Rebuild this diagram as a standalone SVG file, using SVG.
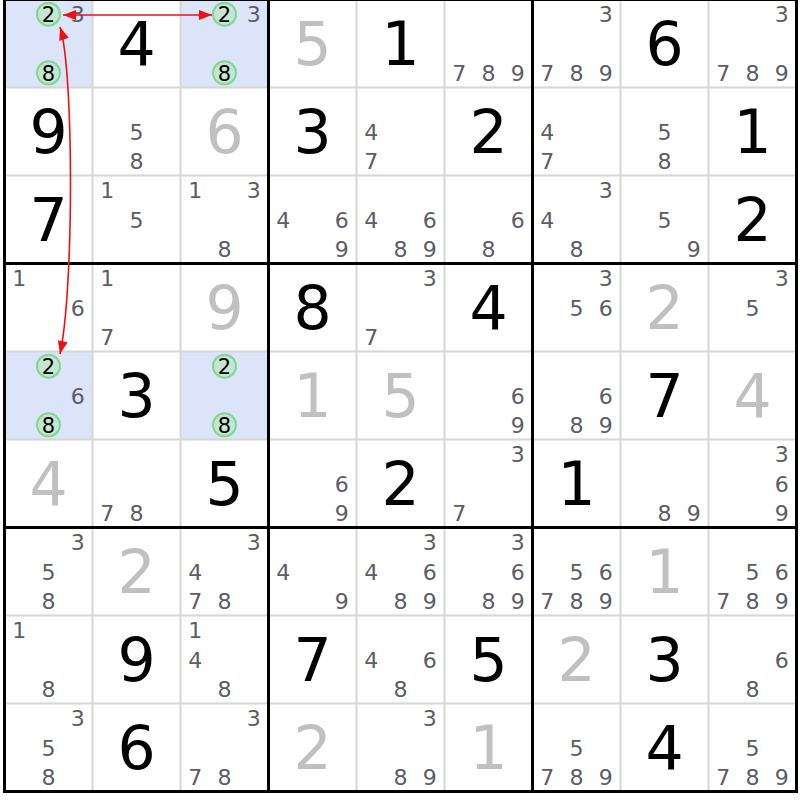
<svg xmlns="http://www.w3.org/2000/svg" width="800" height="800" viewBox="0 0 800 800">
<style>
text{font-family:"DejaVu Sans","Verdana",sans-serif;text-anchor:middle}
.g{font-size:60px;fill:#000}
.h{font-size:60px;fill:#c0c0c0}
.c{font-size:22px;fill:#5c5c66}
.cc{font-size:21px;fill:#000}
.ring{fill:#c4e6d2;stroke:#7fd88e;stroke-width:2}
.hl{fill:#dbe4f8}
.thin{stroke:#d6d6d6;stroke-width:2}
.thick{stroke:#000;stroke-width:3}
.arr{stroke:#f01010;stroke-width:1.6;fill:none;marker-start:url(#ah);marker-end:url(#ah)}
</style>
<defs>
<marker id="ah" markerUnits="userSpaceOnUse" markerWidth="14" markerHeight="12" refX="13" refY="5" orient="auto-start-reverse">
<path d="M0,0 L13,5 L0,10 z" fill="#f01010"/>
</marker>
</defs>
<rect x="0" y="0" width="800" height="800" fill="#fff"/>
<g id="highlights">
<rect class="hl" x="4.5" y="-0.5" width="88" height="88"/>
<rect class="hl" x="180.5" y="-0.5" width="88" height="88"/>
<rect class="hl" x="4.5" y="351.5" width="88" height="88"/>
<rect class="hl" x="180.5" y="351.5" width="88" height="88"/>
</g>
<g id="grid">
<line class="thin" x1="92.5" y1="0" x2="92.5" y2="791.5"/>
<line class="thin" x1="180.5" y1="0" x2="180.5" y2="791.5"/>
<line class="thin" x1="356.5" y1="0" x2="356.5" y2="791.5"/>
<line class="thin" x1="444.5" y1="0" x2="444.5" y2="791.5"/>
<line class="thin" x1="620.5" y1="0" x2="620.5" y2="791.5"/>
<line class="thin" x1="708.5" y1="0" x2="708.5" y2="791.5"/>
<line class="thin" x1="4.5" y1="87.5" x2="796.5" y2="87.5"/>
<line class="thin" x1="4.5" y1="175.5" x2="796.5" y2="175.5"/>
<line class="thin" x1="4.5" y1="351.5" x2="796.5" y2="351.5"/>
<line class="thin" x1="4.5" y1="439.5" x2="796.5" y2="439.5"/>
<line class="thin" x1="4.5" y1="615.5" x2="796.5" y2="615.5"/>
<line class="thin" x1="4.5" y1="703.5" x2="796.5" y2="703.5"/>
<line class="thick" x1="4.5" y1="-1" x2="4.5" y2="793"/>
<line class="thick" x1="268.5" y1="-1" x2="268.5" y2="793"/>
<line class="thick" x1="532.5" y1="-1" x2="532.5" y2="793"/>
<line class="thick" x1="796.5" y1="-1" x2="796.5" y2="793"/>
<line class="thick" x1="3" y1="-0.5" x2="798" y2="-0.5"/>
<line class="thick" x1="3" y1="263.5" x2="798" y2="263.5"/>
<line class="thick" x1="3" y1="527.5" x2="798" y2="527.5"/>
<line class="thick" x1="3" y1="791.5" x2="798" y2="791.5"/>
</g>
<!-- Row 0 -->
<g id="r0c0" transform="translate(48.5,43.5)"><circle class="ring" cx="0" cy="-29.3" r="11.5"/><circle class="ring" cx="0" cy="29.3" r="11.5"/><text class="cc" x="0" y="-21.6">2</text><text class="c" x="29.3" y="-21.3">3</text><text class="cc" x="0" y="37">8</text></g>
<g id="r0c1" transform="translate(136.5,43.5)"><text class="g" x="0" y="21.5">4</text></g>
<g id="r0c2" transform="translate(224.5,43.5)"><circle class="ring" cx="0" cy="-29.3" r="11.5"/><circle class="ring" cx="0" cy="29.3" r="11.5"/><text class="cc" x="0" y="-21.6">2</text><text class="c" x="29.3" y="-21.3">3</text><text class="cc" x="0" y="37">8</text></g>
<g id="r0c3" transform="translate(312.5,43.5)"><text class="h" x="0" y="21.5">5</text></g>
<g id="r0c4" transform="translate(400.5,43.5)"><text class="g" x="0" y="21.5">1</text></g>
<g id="r0c5" transform="translate(488.5,43.5)"><text class="c" x="-29.3" y="37.3">7</text><text class="c" x="0" y="37.3">8</text><text class="c" x="29.3" y="37.3">9</text></g>
<g id="r0c6" transform="translate(576.5,43.5)"><text class="c" x="29.3" y="-21.3">3</text><text class="c" x="-29.3" y="37.3">7</text><text class="c" x="0" y="37.3">8</text><text class="c" x="29.3" y="37.3">9</text></g>
<g id="r0c7" transform="translate(664.5,43.5)"><text class="g" x="0" y="21.5">6</text></g>
<g id="r0c8" transform="translate(752.5,43.5)"><text class="c" x="29.3" y="-21.3">3</text><text class="c" x="-29.3" y="37.3">7</text><text class="c" x="0" y="37.3">8</text><text class="c" x="29.3" y="37.3">9</text></g>
<!-- Row 1 -->
<g id="r1c0" transform="translate(48.5,131.5)"><text class="g" x="0" y="21.5">9</text></g>
<g id="r1c1" transform="translate(136.5,131.5)"><text class="c" x="0" y="8">5</text><text class="c" x="0" y="37.3">8</text></g>
<g id="r1c2" transform="translate(224.5,131.5)"><text class="h" x="0" y="21.5">6</text></g>
<g id="r1c3" transform="translate(312.5,131.5)"><text class="g" x="0" y="21.5">3</text></g>
<g id="r1c4" transform="translate(400.5,131.5)"><text class="c" x="-29.3" y="8">4</text><text class="c" x="-29.3" y="37.3">7</text></g>
<g id="r1c5" transform="translate(488.5,131.5)"><text class="g" x="0" y="21.5">2</text></g>
<g id="r1c6" transform="translate(576.5,131.5)"><text class="c" x="-29.3" y="8">4</text><text class="c" x="-29.3" y="37.3">7</text></g>
<g id="r1c7" transform="translate(664.5,131.5)"><text class="c" x="0" y="8">5</text><text class="c" x="0" y="37.3">8</text></g>
<g id="r1c8" transform="translate(752.5,131.5)"><text class="g" x="0" y="21.5">1</text></g>
<!-- Row 2 -->
<g id="r2c0" transform="translate(48.5,219.5)"><text class="g" x="0" y="21.5">7</text></g>
<g id="r2c1" transform="translate(136.5,219.5)"><text class="c" x="-29.3" y="-21.3">1</text><text class="c" x="0" y="8">5</text></g>
<g id="r2c2" transform="translate(224.5,219.5)"><text class="c" x="-29.3" y="-21.3">1</text><text class="c" x="29.3" y="-21.3">3</text><text class="c" x="0" y="37.3">8</text></g>
<g id="r2c3" transform="translate(312.5,219.5)"><text class="c" x="-29.3" y="8">4</text><text class="c" x="29.3" y="8">6</text><text class="c" x="29.3" y="37.3">9</text></g>
<g id="r2c4" transform="translate(400.5,219.5)"><text class="c" x="-29.3" y="8">4</text><text class="c" x="29.3" y="8">6</text><text class="c" x="0" y="37.3">8</text><text class="c" x="29.3" y="37.3">9</text></g>
<g id="r2c5" transform="translate(488.5,219.5)"><text class="c" x="29.3" y="8">6</text><text class="c" x="0" y="37.3">8</text></g>
<g id="r2c6" transform="translate(576.5,219.5)"><text class="c" x="29.3" y="-21.3">3</text><text class="c" x="-29.3" y="8">4</text><text class="c" x="0" y="37.3">8</text></g>
<g id="r2c7" transform="translate(664.5,219.5)"><text class="c" x="0" y="8">5</text><text class="c" x="29.3" y="37.3">9</text></g>
<g id="r2c8" transform="translate(752.5,219.5)"><text class="g" x="0" y="21.5">2</text></g>
<!-- Row 3 -->
<g id="r3c0" transform="translate(48.5,307.5)"><text class="c" x="-29.3" y="-21.3">1</text><text class="c" x="29.3" y="8">6</text></g>
<g id="r3c1" transform="translate(136.5,307.5)"><text class="c" x="-29.3" y="-21.3">1</text><text class="c" x="-29.3" y="37.3">7</text></g>
<g id="r3c2" transform="translate(224.5,307.5)"><text class="h" x="0" y="21.5">9</text></g>
<g id="r3c3" transform="translate(312.5,307.5)"><text class="g" x="0" y="21.5">8</text></g>
<g id="r3c4" transform="translate(400.5,307.5)"><text class="c" x="29.3" y="-21.3">3</text><text class="c" x="-29.3" y="37.3">7</text></g>
<g id="r3c5" transform="translate(488.5,307.5)"><text class="g" x="0" y="21.5">4</text></g>
<g id="r3c6" transform="translate(576.5,307.5)"><text class="c" x="29.3" y="-21.3">3</text><text class="c" x="0" y="8">5</text><text class="c" x="29.3" y="8">6</text></g>
<g id="r3c7" transform="translate(664.5,307.5)"><text class="h" x="0" y="21.5">2</text></g>
<g id="r3c8" transform="translate(752.5,307.5)"><text class="c" x="29.3" y="-21.3">3</text><text class="c" x="0" y="8">5</text></g>
<!-- Row 4 -->
<g id="r4c0" transform="translate(48.5,395.5)"><circle class="ring" cx="0" cy="-29.3" r="11.5"/><circle class="ring" cx="0" cy="29.3" r="11.5"/><text class="cc" x="0" y="-21.6">2</text><text class="c" x="29.3" y="8">6</text><text class="cc" x="0" y="37">8</text></g>
<g id="r4c1" transform="translate(136.5,395.5)"><text class="g" x="0" y="21.5">3</text></g>
<g id="r4c2" transform="translate(224.5,395.5)"><circle class="ring" cx="0" cy="-29.3" r="11.5"/><circle class="ring" cx="0" cy="29.3" r="11.5"/><text class="cc" x="0" y="-21.6">2</text><text class="cc" x="0" y="37">8</text></g>
<g id="r4c3" transform="translate(312.5,395.5)"><text class="h" x="0" y="21.5">1</text></g>
<g id="r4c4" transform="translate(400.5,395.5)"><text class="h" x="0" y="21.5">5</text></g>
<g id="r4c5" transform="translate(488.5,395.5)"><text class="c" x="29.3" y="8">6</text><text class="c" x="29.3" y="37.3">9</text></g>
<g id="r4c6" transform="translate(576.5,395.5)"><text class="c" x="29.3" y="8">6</text><text class="c" x="0" y="37.3">8</text><text class="c" x="29.3" y="37.3">9</text></g>
<g id="r4c7" transform="translate(664.5,395.5)"><text class="g" x="0" y="21.5">7</text></g>
<g id="r4c8" transform="translate(752.5,395.5)"><text class="h" x="0" y="21.5">4</text></g>
<!-- Row 5 -->
<g id="r5c0" transform="translate(48.5,483.5)"><text class="h" x="0" y="21.5">4</text></g>
<g id="r5c1" transform="translate(136.5,483.5)"><text class="c" x="-29.3" y="37.3">7</text><text class="c" x="0" y="37.3">8</text></g>
<g id="r5c2" transform="translate(224.5,483.5)"><text class="g" x="0" y="21.5">5</text></g>
<g id="r5c3" transform="translate(312.5,483.5)"><text class="c" x="29.3" y="8">6</text><text class="c" x="29.3" y="37.3">9</text></g>
<g id="r5c4" transform="translate(400.5,483.5)"><text class="g" x="0" y="21.5">2</text></g>
<g id="r5c5" transform="translate(488.5,483.5)"><text class="c" x="29.3" y="-21.3">3</text><text class="c" x="-29.3" y="37.3">7</text></g>
<g id="r5c6" transform="translate(576.5,483.5)"><text class="g" x="0" y="21.5">1</text></g>
<g id="r5c7" transform="translate(664.5,483.5)"><text class="c" x="0" y="37.3">8</text><text class="c" x="29.3" y="37.3">9</text></g>
<g id="r5c8" transform="translate(752.5,483.5)"><text class="c" x="29.3" y="-21.3">3</text><text class="c" x="29.3" y="8">6</text><text class="c" x="29.3" y="37.3">9</text></g>
<!-- Row 6 -->
<g id="r6c0" transform="translate(48.5,571.5)"><text class="c" x="29.3" y="-21.3">3</text><text class="c" x="0" y="8">5</text><text class="c" x="0" y="37.3">8</text></g>
<g id="r6c1" transform="translate(136.5,571.5)"><text class="h" x="0" y="21.5">2</text></g>
<g id="r6c2" transform="translate(224.5,571.5)"><text class="c" x="29.3" y="-21.3">3</text><text class="c" x="-29.3" y="8">4</text><text class="c" x="-29.3" y="37.3">7</text><text class="c" x="0" y="37.3">8</text></g>
<g id="r6c3" transform="translate(312.5,571.5)"><text class="c" x="-29.3" y="8">4</text><text class="c" x="29.3" y="37.3">9</text></g>
<g id="r6c4" transform="translate(400.5,571.5)"><text class="c" x="29.3" y="-21.3">3</text><text class="c" x="-29.3" y="8">4</text><text class="c" x="29.3" y="8">6</text><text class="c" x="0" y="37.3">8</text><text class="c" x="29.3" y="37.3">9</text></g>
<g id="r6c5" transform="translate(488.5,571.5)"><text class="c" x="29.3" y="-21.3">3</text><text class="c" x="29.3" y="8">6</text><text class="c" x="0" y="37.3">8</text><text class="c" x="29.3" y="37.3">9</text></g>
<g id="r6c6" transform="translate(576.5,571.5)"><text class="c" x="0" y="8">5</text><text class="c" x="29.3" y="8">6</text><text class="c" x="-29.3" y="37.3">7</text><text class="c" x="0" y="37.3">8</text><text class="c" x="29.3" y="37.3">9</text></g>
<g id="r6c7" transform="translate(664.5,571.5)"><text class="h" x="0" y="21.5">1</text></g>
<g id="r6c8" transform="translate(752.5,571.5)"><text class="c" x="0" y="8">5</text><text class="c" x="29.3" y="8">6</text><text class="c" x="-29.3" y="37.3">7</text><text class="c" x="0" y="37.3">8</text><text class="c" x="29.3" y="37.3">9</text></g>
<!-- Row 7 -->
<g id="r7c0" transform="translate(48.5,659.5)"><text class="c" x="-29.3" y="-21.3">1</text><text class="c" x="0" y="37.3">8</text></g>
<g id="r7c1" transform="translate(136.5,659.5)"><text class="g" x="0" y="21.5">9</text></g>
<g id="r7c2" transform="translate(224.5,659.5)"><text class="c" x="-29.3" y="-21.3">1</text><text class="c" x="-29.3" y="8">4</text><text class="c" x="0" y="37.3">8</text></g>
<g id="r7c3" transform="translate(312.5,659.5)"><text class="g" x="0" y="21.5">7</text></g>
<g id="r7c4" transform="translate(400.5,659.5)"><text class="c" x="-29.3" y="8">4</text><text class="c" x="29.3" y="8">6</text><text class="c" x="0" y="37.3">8</text></g>
<g id="r7c5" transform="translate(488.5,659.5)"><text class="g" x="0" y="21.5">5</text></g>
<g id="r7c6" transform="translate(576.5,659.5)"><text class="h" x="0" y="21.5">2</text></g>
<g id="r7c7" transform="translate(664.5,659.5)"><text class="g" x="0" y="21.5">3</text></g>
<g id="r7c8" transform="translate(752.5,659.5)"><text class="c" x="29.3" y="8">6</text><text class="c" x="0" y="37.3">8</text></g>
<!-- Row 8 -->
<g id="r8c0" transform="translate(48.5,747.5)"><text class="c" x="29.3" y="-21.3">3</text><text class="c" x="0" y="8">5</text><text class="c" x="0" y="37.3">8</text></g>
<g id="r8c1" transform="translate(136.5,747.5)"><text class="g" x="0" y="21.5">6</text></g>
<g id="r8c2" transform="translate(224.5,747.5)"><text class="c" x="29.3" y="-21.3">3</text><text class="c" x="-29.3" y="37.3">7</text><text class="c" x="0" y="37.3">8</text></g>
<g id="r8c3" transform="translate(312.5,747.5)"><text class="h" x="0" y="21.5">2</text></g>
<g id="r8c4" transform="translate(400.5,747.5)"><text class="c" x="29.3" y="-21.3">3</text><text class="c" x="0" y="37.3">8</text><text class="c" x="29.3" y="37.3">9</text></g>
<g id="r8c5" transform="translate(488.5,747.5)"><text class="h" x="0" y="21.5">1</text></g>
<g id="r8c6" transform="translate(576.5,747.5)"><text class="c" x="0" y="8">5</text><text class="c" x="-29.3" y="37.3">7</text><text class="c" x="0" y="37.3">8</text><text class="c" x="29.3" y="37.3">9</text></g>
<g id="r8c7" transform="translate(664.5,747.5)"><text class="g" x="0" y="21.5">4</text></g>
<g id="r8c8" transform="translate(752.5,747.5)"><text class="c" x="0" y="8">5</text><text class="c" x="-29.3" y="37.3">7</text><text class="c" x="0" y="37.3">8</text><text class="c" x="29.3" y="37.3">9</text></g>
<g id="connectors">
<line class="arr" x1="63" y1="15" x2="212" y2="15"/>
<path class="arr" d="M60,27 C74,70 74,290 60,354"/>
</g>
</svg>
